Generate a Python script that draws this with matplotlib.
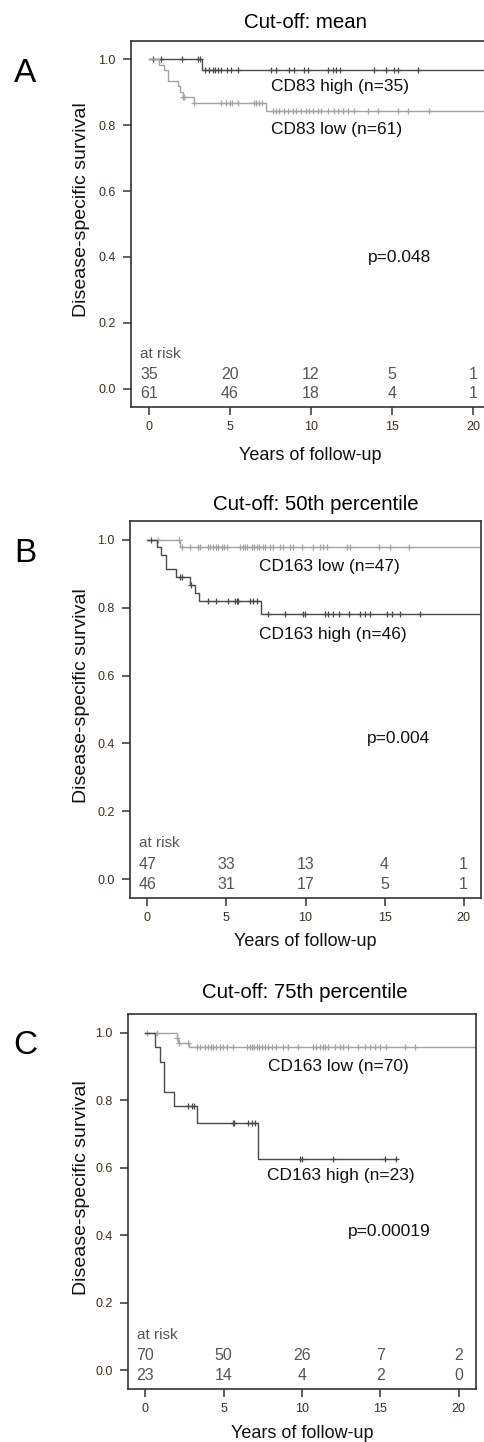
import matplotlib
matplotlib.use('Agg')
import matplotlib.pyplot as plt
import numpy as np

plt.rcParams['font.family'] = ['Liberation Sans', 'DejaVu Sans']

W, H = 484, 1442
DARK = '#4a4a4a'
LIGHT = '#a3a3a3'
TICKS = [0, 5, 10, 15, 20]

# ---- panel A: CD83, cut-off mean
a_high_times = [3.3]
a_high_surv = [0.967]
a_high_cens = [0.23, 0.74, 2.02, 3.04, 3.17, 3.46, 3.72, 3.93, 4.07, 4.24, 4.44, 4.80,
               5.06, 5.48, 7.53, 7.84, 8.66, 8.97, 9.59, 9.80, 11.03, 11.34, 11.54, 11.81,
               13.91, 14.63, 15.14, 15.35, 16.59]
a_low_times = [0.64, 0.94, 1.19, 1.77, 1.93, 2.08, 2.80, 7.22]
a_low_surv = [0.984, 0.967, 0.934, 0.918, 0.902, 0.885, 0.869, 0.843]
a_low_cens = [2.08, 2.18, 2.80, 4.44, 4.75, 5.02, 5.10, 5.48, 6.50, 6.60, 6.81, 6.96,
              7.64, 7.84, 8.04, 8.35, 8.56, 8.87, 9.07, 9.38, 9.69, 9.90, 10.10, 10.41,
              10.62, 11.03, 11.44, 11.65, 11.96, 12.27, 12.67, 13.50, 14.12, 15.35, 15.97, 17.30]
a_risk_high = [35, 20, 12, 5, 1]
a_risk_low = [61, 46, 18, 4, 1]

# ---- panel B: CD163, 50th percentile
b_low_times = [2.05]
b_low_surv = [0.978]
b_low_cens = [0.67, 2.0, 2.16, 2.68, 3.21, 3.32, 3.84, 3.99, 4.16, 4.33, 4.48, 4.69, 4.84,
              5.01, 5.85, 6.02, 6.19, 6.31, 6.59, 6.74, 6.91, 7.08, 7.33, 7.44, 7.76, 7.97,
              8.39, 8.60, 9.03, 9.24, 9.76, 10.50, 10.92, 11.13, 11.35, 12.62, 12.83, 14.62,
              15.36, 16.53]
b_high_times = [0.61, 0.89, 1.16, 1.79, 2.68, 3.0, 3.27, 7.16]
b_high_surv = [0.978, 0.957, 0.913, 0.891, 0.868, 0.845, 0.819, 0.781]
b_high_cens = [0.25, 2.05, 2.22, 2.73, 3.84, 4.33, 5.11, 5.54, 5.64, 5.75, 6.49, 6.70, 6.95,
               7.65, 8.71, 9.87, 9.97, 11.24, 11.45, 11.77, 12.09, 12.72, 13.46, 13.78,
               14.10, 15.16, 15.47, 16.0, 17.27]
b_risk_low = [47, 33, 13, 4, 1]
b_risk_high = [46, 31, 17, 5, 1]

# ---- panel C: CD163, 75th percentile
c_low_times = [2.0, 2.1, 2.8]
c_low_surv = [0.986, 0.971, 0.957]
c_low_cens = [0.09, 0.73, 2.0, 2.17, 2.74, 3.28, 3.49, 3.80, 4.02, 4.17, 4.33, 4.51, 4.76,
              4.97, 5.19, 5.61, 6.46, 6.67, 6.82, 6.95, 7.10, 7.27, 7.42, 7.63, 7.84, 8.06,
              8.37, 8.80, 9.11, 9.75, 10.71, 10.92, 11.13, 11.31, 11.45, 11.66, 12.09, 12.41,
              12.62, 12.94, 13.58, 14.0, 14.32, 14.64, 14.96, 15.39, 16.56, 17.19]
c_high_times = [0.62, 0.94, 1.19, 1.83, 3.28, 7.2]
c_high_surv = [0.957, 0.913, 0.826, 0.783, 0.734, 0.626]
c_high_cens = [2.74, 2.96, 3.12, 5.61, 5.67, 6.56, 6.78, 6.99, 9.86, 9.97, 11.98, 15.28, 16.02]
c_high_end = 16.02
c_risk_low = [70, 50, 26, 7, 2]
c_risk_high = [23, 14, 4, 2, 0]


def km(ax, times, surv, cens, color, end=22.0):
    t = np.concatenate([[0], times, [end]])
    s = np.concatenate([[1.0], surv, [surv[-1]]])
    ax.step(t, s, where='post', color=color, lw=1.0, clip_on=True)
    cens = np.array(cens)
    idx = np.searchsorted(np.array(times), cens, side='right')
    cy = np.concatenate([[1.0], surv])[idx]
    ax.plot(cens, cy, '+', color=color, ms=5, mew=0.9, clip_on=True)


def panel(box, letter, title, title_x, title_y, xlab_x, xlab_y, curves, labels, ptxt, risks):
    l, t, r, b = box
    ax = fig.add_axes([l / W, 1 - b / H, (r - l) / W, (b - t) / H])
    for c in curves:
        km(ax, *c)
    ax.set_xlim(-1.1, 21.1)
    ax.set_ylim(-0.056, 1.056)
    ax.set_xticks(TICKS)
    ax.set_yticks([0.0, 0.2, 0.4, 0.6, 0.8, 1.0])
    ax.set_yticklabels(['0.0', '0.2', '0.4', '0.6', '0.8', '1.0'])
    for sp in ax.spines.values():
        sp.set_linewidth(1.2)
        sp.set_color('#333333')
    ax.tick_params(axis='y', length=6, width=1.1, pad=5, labelsize=9,
                   colors='#333333', labelcolor='#3a3020')
    ax.tick_params(axis='x', length=6, width=1.1, pad=4, labelsize=9,
                   colors='#333333', labelcolor='#3a3020')
    for txt, x, y in labels:
        ax.text(x, y, txt, fontsize=12.5, va='center', ha='left', color='#111111')
    ax.text(ptxt[1], ptxt[2], ptxt[0], fontsize=12.5, va='center', ha='left', color='#111111')
    ax.text(-0.55, 0.105, 'at risk', fontsize=11, va='center', ha='left', color='#555555')
    for row, yy in zip(risks, [0.042, -0.016]):
        for x, n in zip(TICKS, row):
            ax.text(x, yy, str(n), fontsize=11.5, va='center', ha='center', color='#555555')
    fig.text(title_x / W, 1 - title_y / H, title, fontsize=14.7, ha='center', va='center')
    fig.text(xlab_x / W, 1 - xlab_y / H, 'Years of follow-up', fontsize=13,
             ha='center', va='center', color='#111111')
    fig.text(81 / W, 1 - ((t + b) / 2 - 14) / H, 'Disease-specific survival', fontsize=14,
             rotation=90, ha='center', va='center', color='#111111')
    fig.text(25 / W, 1 - (t + 32) / H, letter, fontsize=24, ha='center', va='center')
    return ax


fig = plt.figure(figsize=(W / 100, H / 100), dpi=100)

panel((131, 41, 491, 407), 'A', 'Cut-off: mean', 306, 22, 310, 455,
      [(a_high_times, a_high_surv, a_high_cens, DARK),
       (a_low_times, a_low_surv, a_low_cens, LIGHT)],
      [('CD83 high (n=35)', 7.53, 0.919), ('CD83 low (n=61)', 7.53, 0.787)],
      ('p=0.048', 13.5, 0.397), [a_risk_high, a_risk_low])

panel((130, 521, 481, 898), 'B', 'Cut-off: 50th percentile', 316, 504, 305, 942,
      [(b_low_times, b_low_surv, b_low_cens, LIGHT),
       (b_high_times, b_high_surv, b_high_cens, DARK)],
      [('CD163 low (n=47)', 7.06, 0.921), ('CD163 high (n=46)', 7.06, 0.72)],
      ('p=0.004', 13.9, 0.415), [b_risk_low, b_risk_high])

panel((128, 1014, 476, 1389), 'C', 'Cut-off: 75th percentile', 305, 993, 302, 1433,
      [(c_low_times, c_low_surv, c_low_cens, LIGHT),
       (c_high_times, c_high_surv, c_high_cens, DARK, c_high_end)],
      [('CD163 low (n=70)', 7.84, 0.90), ('CD163 high (n=23)', 7.78, 0.578)],
      ('p=0.00019', 12.94, 0.412), [c_risk_low, c_risk_high])

fig.savefig('out.png', dpi=100)
